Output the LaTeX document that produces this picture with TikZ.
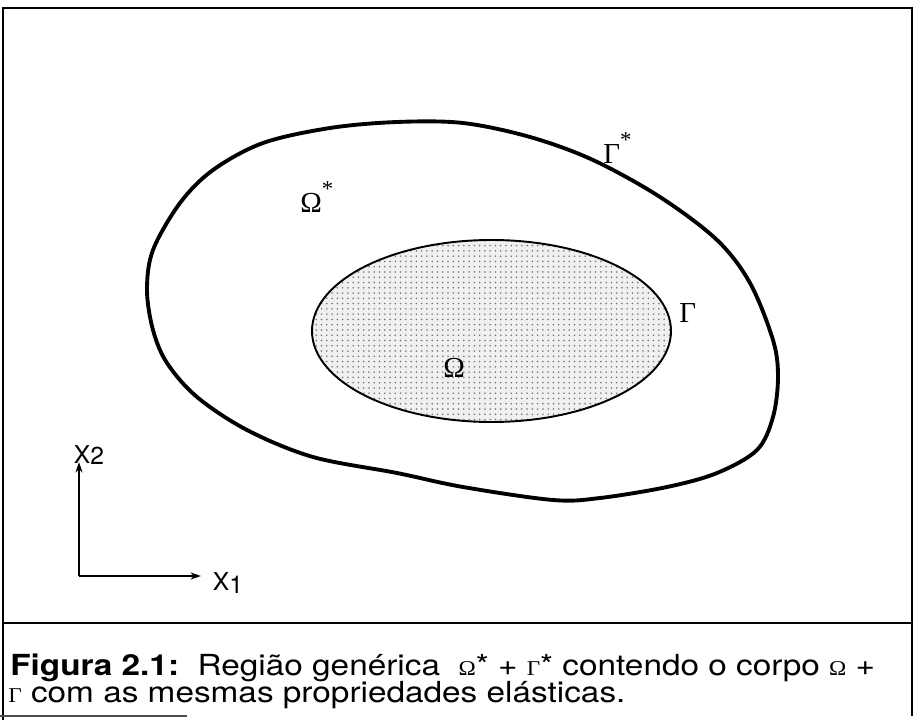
\documentclass[tikz,border=0pt]{standalone}
\usepackage{fontspec}
\setsansfont{TeX Gyre Heros}
\newfontfamily\figserif{Liberation Serif}
\newfontfamily\capfont[FakeStretch=1.15]{TeX Gyre Heros}
\newfontfamily\capserif[FakeStretch=1.1]{Liberation Serif}
\usetikzlibrary{patterns,arrows.meta}
\begin{document}
\begin{tikzpicture}[x=0.02cm,y=-0.02cm,
  framestyle/.style={line width=1.5pt,black},
  blobline/.style={line width=2.2pt,black,line join=round},
  innerline/.style={line width=1.1pt,black},
  axisline/.style={line width=1pt,-{Stealth[length=6pt,width=4pt]}},
  figlabel/.style={font=\figserif\fontsize{16.5}{16.5}\selectfont,inner sep=0pt,anchor=base west},
  axislabel/.style={font=\sffamily\fontsize{14}{14}\selectfont,inner sep=0pt},
  captionline/.style={font=\capfont\fontsize{16.5}{16.5}\selectfont,inner sep=0pt,anchor=base west}]
\useasboundingbox (0,0) rectangle (914,720);
\fill[white] (0,0) rectangle (914,720);
% frame
\coordinate (tl) at (3,8);
\coordinate (tr) at (912,8);
\coordinate (bl) at (3,720);
\coordinate (br) at (912,716);
\coordinate (sl) at (3,623);
\coordinate (sr) at (912,623);
\coordinate (b0) at (0,716);
\coordinate (b1) at (187,716);
\draw[framestyle] (bl) -- (tl) -- (tr) -- (br);
\draw[framestyle] (sl) -- (sr);
\draw[line width=0.8pt,black!70] (b0) -- (b1);
% outer region
\draw[blobline] plot[smooth cycle,tension=0.55] coordinates {
 (147,290) (153,250) (180,203) (213,170) (263,143) (330,128) (397,122)
 (463,123) (530,137) (593,160) (660,197) (717,240) (750,283) (773,340)
 (778,377) (773,417) (757,450) (717,473) (667,487) (600,498) (553,500)
 (463,487) (397,473) (313,457) (247,430) (197,397) (167,363) (153,330)};
% inner body
\fill[black!6] (491.5,331) ellipse [x radius=179.5, y radius=91];
\fill[pattern=dots,pattern color=black!55] (491.5,331) ellipse [x radius=179.5, y radius=91];
\draw[innerline] (491.5,331) ellipse [x radius=179.5, y radius=91];
% labels
\node[figlabel] (omegastar) at (300,212) {Ω\raisebox{9pt}{\fontsize{13}{13}\selectfont *}};
\node[figlabel] (gammastar) at (603,163) {Γ\raisebox{9pt}{\fontsize{13}{13}\selectfont *}};
\node[figlabel] (gamma) at (679,322) {Γ};
\node[figlabel] (omega) at (443,377) {Ω};
% axes
\coordinate (o) at (79,576);
\coordinate (x2end) at (79,462);
\coordinate (x1end) at (201,576);
\draw[axisline] (o) -- (x2end);
\draw[axisline] (o) -- (x1end);
\node[axislabel] (x2lab) at (89,455) {X\raisebox{-0.5pt}{2}};
\node[axislabel] (x1lab) at (228,583) {X\raisebox{-1.5pt}{1}};
% caption
\node[captionline] (cap1) at (10,675) {\textbf{Figura 2.1:}\ \ Região genérica\ \ {\capserif\fontsize{12}{12}\selectfont Ω}* + {\capserif\fontsize{12}{12}\selectfont Γ}* contendo o corpo {\capserif\fontsize{12}{12}\selectfont Ω} +};
\node[captionline] (cap2) at (8,702) {{\capserif\fontsize{12}{12}\selectfont Γ} com as mesmas propriedades elásticas.};
\end{tikzpicture}
\end{document}
